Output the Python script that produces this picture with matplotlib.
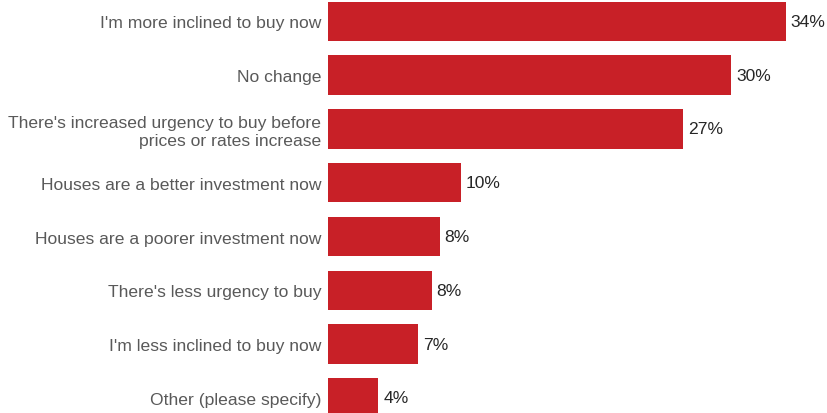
import matplotlib
matplotlib.use("Agg")
import matplotlib.pyplot as plt

# survey answers, top to bottom
answers = [
    "I'm more inclined to buy now",
    "No change",
    "There's increased urgency to buy before\nprices or rates increase",
    "Houses are a better investment now",
    "Houses are a poorer investment now",
    "There's less urgency to buy",
    "I'm less inclined to buy now",
    "Other (please specify)",
]
shares = [34.4, 30.3, 26.7, 10.0, 8.4, 7.8, 6.8, 3.8]

plt.rcParams['font.family'] = ['Liberation Sans', 'DejaVu Sans']

fig = plt.figure(figsize=(8.27, 4.14), dpi=100)
ax = fig.add_axes([0.3963, 0.0, 0.6037, 1.0])

ypos = list(range(len(answers)))
ax.barh(ypos, shares, height=0.734, color='#c82027')

for y, v in zip(ypos, shares):
    ax.annotate(f"{v:.0f}%", (v, y), xytext=(3.6, 0), textcoords='offset points',
                ha='left', va='center', fontsize=12.6, color='#262626')

ax.set_yticks(ypos)
ax.set_yticklabels(answers, fontsize=12.6, color='#595959', multialignment='right')
ax.tick_params(axis='y', length=0, pad=4.5)
ax.set_xticks([])
ax.set_xlim(0, 37.5)
ax.set_ylim(7.28, -0.4145)
for s in ax.spines.values():
    s.set_visible(False)

fig.savefig("out.png", dpi=100)
